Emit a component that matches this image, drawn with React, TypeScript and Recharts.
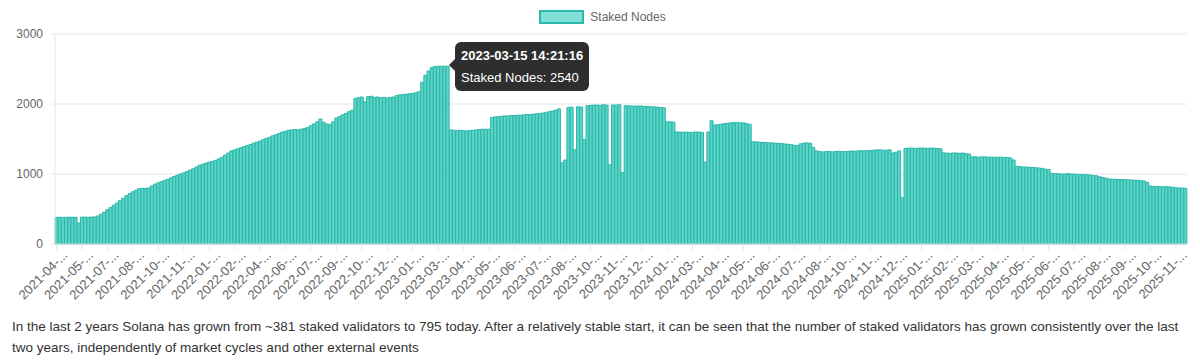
import React from "react";
import {
  BarChart,
  Bar,
  XAxis,
  YAxis,
  CartesianGrid,
  Tooltip,
  Legend,
} from "recharts";

// one label for every 8 points, as the reference axis skips them
const tickLabels = [
  "2021-04", "2021-05", "2021-07", "2021-08", "2021-10", "2021-11",
  "2022-01", "2022-02", "2022-04", "2022-06", "2022-07", "2022-09",
  "2022-10", "2022-12", "2023-01", "2023-03", "2023-04", "2023-05",
  "2023-06", "2023-07", "2023-08", "2023-10", "2023-11", "2023-12",
  "2024-01", "2024-03", "2024-04", "2024-05", "2024-06", "2024-07",
  "2024-08", "2024-10", "2024-11", "2024-12", "2025-01", "2025-02",
  "2025-03", "2025-04", "2025-05", "2025-06", "2025-07", "2025-08",
  "2025-09", "2025-10", "2025-11",
];

// staked nodes, 8 per tick label
const stakedNodes = [
  381, 382, 380, 381, 383, 382, 381, 300,
  383, 384, 382, 385, 386, 400, 425, 455,
  490, 520, 555, 585, 620, 655, 690, 720,
  745, 770, 790, 795, 792, 800, 830, 855,
  875, 890, 910, 925, 945, 965, 985, 1000,
  1015, 1035, 1055, 1075, 1100, 1125, 1140, 1155,
  1170, 1180, 1195, 1215, 1240, 1270, 1300, 1330,
  1345, 1360, 1375, 1390, 1405, 1420, 1440, 1455,
  1470, 1490, 1510, 1525, 1545, 1560, 1580, 1600,
  1610, 1625, 1630, 1635, 1630, 1640, 1650, 1665,
  1690, 1715, 1745, 1785, 1740, 1715, 1710, 1745,
  1800, 1820, 1845, 1865, 1890, 1910, 2080, 2090,
  2100, 2030, 2105, 2110, 2095, 2100, 2090, 2095,
  2085, 2095, 2100, 2120, 2130, 2135, 2140, 2145,
  2150, 2160, 2175, 2310, 2410, 2470, 2520, 2535,
  2540, 2540, 2540, 2540, 1630, 1625, 1620, 1625,
  1620, 1615, 1620, 1625, 1630, 1635, 1640, 1640,
  1640, 1810, 1815, 1820, 1825, 1830, 1830, 1835,
  1835, 1840, 1840, 1845, 1850, 1850, 1855, 1860,
  1865, 1870, 1880, 1890, 1900, 1910, 1930, 1160,
  1200, 1950, 1955, 1345, 1960, 1955, 1490, 1975,
  1980, 1985, 1985, 1980, 1990, 1985, 1130, 1985,
  1985, 1990, 1020, 1975, 1975, 1970, 1970, 1970,
  1970, 1965, 1965, 1960, 1960, 1955, 1950, 1945,
  1745, 1745, 1740, 1600, 1600, 1595, 1600, 1595,
  1595, 1600, 1600, 1595, 1170, 1600, 1760, 1700,
  1705, 1710, 1720, 1725, 1730, 1735, 1735, 1730,
  1730, 1720, 1710, 1460, 1460, 1455, 1450, 1450,
  1445, 1445, 1440, 1440, 1435, 1430, 1425, 1420,
  1410, 1405, 1430, 1440, 1445, 1440, 1380, 1330,
  1320, 1315, 1320, 1320, 1315, 1320, 1325, 1320,
  1320, 1325, 1330, 1325, 1330, 1335, 1330, 1335,
  1335, 1340, 1345, 1345, 1340, 1340, 1345, 1300,
  1310, 1330, 660, 1365, 1370, 1370, 1365, 1370,
  1370, 1370, 1365, 1370, 1370, 1365, 1360, 1300,
  1300, 1295, 1300, 1300, 1295, 1300, 1290, 1285,
  1245, 1245, 1240, 1245, 1245, 1240, 1240, 1240,
  1240, 1240, 1235, 1235, 1230, 1200, 1110, 1105,
  1100, 1100, 1095, 1095, 1090, 1085, 1080, 1070,
  1065, 1010, 1005, 1005, 1000, 1000, 1005, 1000,
  1000, 995, 995, 990, 990, 985, 980, 975,
  960, 950, 940, 930, 925, 925, 920, 920,
  920, 915, 915, 910, 910, 905, 900, 880,
  830, 820, 820, 820, 815, 820, 815, 810,
  805, 800, 800, 795,
];

const yTicks = [0, 1000, 2000, 3000];

const hoverIndex = 123;
const hoverTime = "2023-03-15 14:21:16";

const seriesName = "Staked Nodes";

const note =
  "In the last 2 years Solana has grown from ~381 staked validators to 795 today. After a relatively stable start, it can be seen that the number of staked validators has grown consistently over the last two years, independently of market cycles and other external events";

const data = stakedNodes.map((v, i) => ({ i, nodes: v }));

const FONT = '"Liberation Sans", Arial, Helvetica, sans-serif';

function DateTick({ x, y, payload }: any) {
  const label = tickLabels[Math.round(payload.value / 8)];
  return (
    <g transform={`translate(${x + 9},${y + 1})`}>
      <text
        textAnchor="end"
        transform="rotate(-45)"
        dy={4}
        fontSize={13}
        fill="#666"
      >
        {label}-...
      </text>
    </g>
  );
}

function LegendBox() {
  return (
    <div
      style={{
        height: 26,
        display: "flex",
        justifyContent: "center",
        alignItems: "flex-start",
        paddingLeft: 10,
        paddingTop: 2,
        boxSizing: "border-box",
      }}
    >
      <span
        style={{
          width: 41,
          height: 10,
          background: "#80dfd6",
          border: "2px solid #2cb9ab",
          marginRight: 6,
        }}
      />
      <span style={{ fontSize: 12, lineHeight: "14px", color: "#666" }}>
        {seriesName}
      </span>
    </div>
  );
}

function NodeTooltip({ payload }: any) {
  if (!payload || !payload.length) return null;
  return (
    <div style={{ position: "relative", paddingLeft: 6, fontFamily: FONT }}>
      <div
        style={{
          position: "absolute",
          left: 0,
          top: 17,
          width: 0,
          height: 0,
          borderTop: "6px solid transparent",
          borderBottom: "6px solid transparent",
          borderRight: "6px solid rgba(0,0,0,0.82)",
        }}
      />
      <div
        style={{
          background: "rgba(0,0,0,0.82)",
          borderRadius: 6,
          padding: "5px 6px",
          color: "#fff",
          fontSize: 13,
          lineHeight: "17px",
          whiteSpace: "nowrap",
        }}
      >
        <div style={{ fontWeight: "bold", marginBottom: 5 }}>{hoverTime}</div>
        <div>
          {seriesName}: {payload[0].value}
        </div>
      </div>
    </div>
  );
}

export default function App() {
  return (
    <div style={{ fontFamily: FONT, width: 1184 }}>
      <BarChart
        width={1184}
        height={300}
        data={data}
        margin={{ top: 0, right: 5, left: 0, bottom: 0 }}
        barCategoryGap={0}
      >
        <Legend verticalAlign="top" align="center" content={<LegendBox />} />
        <CartesianGrid vertical={false} stroke="#e6e6e6" />
        <XAxis
          dataKey="i"
          interval={7}
          tick={<DateTick />}
          tickSize={6}
          tickLine={{ stroke: "#e6e6e6" }}
          axisLine={{ stroke: "#e6e6e6" }}
          height={64}
        />
        <YAxis
          domain={[0, 3000]}
          ticks={yTicks}
          width={47}
          tickSize={4}
          tickMargin={8}
          tickLine={{ stroke: "#e6e6e6" }}
          axisLine={{ stroke: "#e6e6e6" }}
          tick={{ fontSize: 12, fill: "#666" }}
        />
        <Tooltip
          active
          defaultIndex={hoverIndex}
          cursor={false}
          isAnimationActive={false}
          position={{ x: 441, y: 34 }}
          content={<NodeTooltip />}
        />
        <Bar
          dataKey="nodes"
          name={seriesName}
          fill="#5fd3c7"
          stroke="#28b8a9"
          strokeWidth={1}
          isAnimationActive={false}
        />
      </BarChart>
      <p
        style={{
          margin: "8px 0 0 4px",
          fontSize: 13.5,
          lineHeight: "21px",
          color: "#333",
          width: 1182,
        }}
      >
        {note}
      </p>
    </div>
  );
}
